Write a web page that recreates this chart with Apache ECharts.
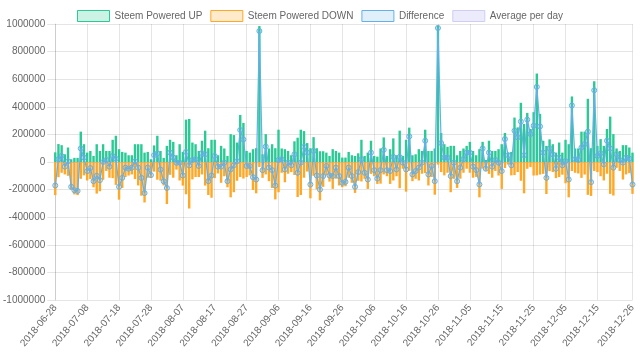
<!DOCTYPE html>
<html>
<head>
<meta charset="utf-8">
<script src="https://cdn.jsdelivr.net/npm/echarts@6/dist/echarts.min.js"></script>
<style>
html,body{margin:0;padding:0;background:#fff;}
#chart{width:640px;height:361px;}
</style>
</head>
<body>
<div id="chart"></div>
<script>
// Categories: consecutive days starting 2018-06-28 (182 days, last 2018-12-26)
const START_DATE = '2018-06-28';
const DAY_COUNT = 182;
const dates = [];
(function(){
  const d0 = new Date(START_DATE + 'T00:00:00Z');
  for (let i = 0; i < DAY_COUNT; i++) {
    const d = new Date(d0.getTime() + i * 86400000);
    dates.push(d.toISOString().slice(0, 10));
  }
})();

const yTicks = [-1000000, -800000, -600000, -400000, -200000, 0, 200000, 400000, 600000, 800000, 1000000];

const poweredUp = [
70000,130000,122000,56000,105000,20000,30000,30000,220000,129000,
68000,80000,44000,129000,80000,129000,80000,80000,161000,190000,
93000,73000,68000,49000,49000,129000,129000,129000,68000,73000,
20000,120000,190000,80000,30000,117000,161000,146000,49000,129000,
73000,307000,312000,141000,129000,80000,154000,227000,100000,161000,
161000,49000,117000,98000,44000,202000,195000,141000,341000,283000,
80000,68000,93000,100000,985000,56000,202000,98000,129000,100000,
234000,98000,93000,80000,49000,150000,176000,234000,224000,137000,
100000,180000,100000,78000,78000,68000,44000,93000,80000,68000,
32000,32000,73000,49000,44000,63000,161000,44000,68000,154000,
44000,39000,98000,178000,44000,93000,171000,49000,227000,44000,
161000,249000,49000,56000,93000,80000,234000,80000,80000,98000,
990000,210000,129000,110000,117000,117000,49000,80000,98000,117000,
146000,80000,49000,93000,146000,15000,154000,80000,80000,93000,
129000,210000,68000,73000,322000,251000,429000,276000,356000,239000,
361000,641000,349000,154000,117000,164000,129000,68000,141000,68000,
161000,129000,475000,98000,98000,220000,220000,458000,100000,585000,
117000,166000,117000,239000,329000,202000,98000,80000,122000,122000,
105000,68000
];

const poweredDown = [
-240000,-110000,-78000,-90000,-100000,-200000,-235000,-240000,-122000,-97000,
-134000,-124000,-183000,-229000,-212000,-129000,-65000,-114000,-117000,-166000,
-273000,-188000,-109000,-98000,-90000,-124000,-170000,-244000,-293000,-114000,
-115000,-70000,-128000,-135000,-170000,-305000,-93000,-114000,-55000,-134000,
-171000,-234000,-337000,-126000,-109000,-109000,-90000,-171000,-239000,-259000,
-117000,-83000,-151000,-103000,-183000,-256000,-219000,-136000,-109000,-120000,
-109000,-97000,-203000,-227000,-36000,-115000,-90000,-139000,-188000,-271000,
-219000,-78000,-147000,-85000,-73000,-94000,-254000,-239000,-114000,-69000,
-263000,-100000,-198000,-278000,-180000,-97000,-142000,-195000,-121000,-170000,
-183000,-176000,-114000,-151000,-224000,-136000,-141000,-122000,-195000,-86000,
-103000,-159000,-157000,-90000,-103000,-159000,-134000,-103000,-190000,-49000,
-215000,-64000,-139000,-122000,-134000,-85000,-80000,-170000,-109000,-237000,
-19000,-73000,-97000,-78000,-219000,-122000,-188000,-121000,-78000,-49000,
-78000,-114000,-108000,-256000,-48000,-64000,-86000,-114000,-65000,-98000,
-195000,-44000,-19000,-97000,-95000,-73000,-136000,-227000,-49000,-37000,
-98000,-97000,-91000,-86000,-232000,-66000,-73000,-117000,-109000,-92000,
-154000,-256000,-65000,-78000,-83000,-115000,-91000,-238000,-246000,-65000,
-73000,-103000,-134000,-85000,-231000,-243000,-42000,-65000,-127000,-90000,
-81000,-231000
];

const difference = [
-170000,20000,44000,-34000,5000,-180000,-205000,-210000,98000,32000,
-66000,-44000,-139000,-100000,-132000,0,15000,-34000,44000,24000,
-180000,-115000,-41000,-49000,-41000,5000,-41000,-115000,-225000,-41000,
-95000,50000,62000,-55000,-140000,-188000,68000,32000,-6000,-5000,
-98000,73000,-25000,15000,20000,-29000,64000,56000,-139000,-98000,
44000,-34000,-34000,-5000,-139000,-54000,-24000,5000,232000,163000,
-29000,-29000,-110000,-127000,949000,-59000,112000,-41000,-59000,-171000,
15000,20000,-54000,-5000,-24000,56000,-78000,-5000,110000,68000,
-163000,80000,-98000,-200000,-102000,-29000,-98000,-102000,-41000,-102000,
-151000,-144000,-41000,-102000,-180000,-73000,20000,-78000,-127000,68000,
-59000,-120000,-59000,88000,-59000,-66000,37000,-54000,37000,-5000,
-54000,185000,-90000,-66000,-41000,-5000,154000,-90000,-29000,-139000,
971000,137000,32000,32000,-102000,-5000,-139000,-41000,20000,68000,
68000,-34000,-59000,-163000,98000,-49000,68000,-34000,15000,-5000,
-66000,166000,49000,-24000,227000,178000,293000,49000,307000,202000,
263000,544000,258000,68000,-115000,98000,56000,-49000,32000,-24000,
7000,-127000,410000,20000,15000,105000,129000,220000,-146000,520000,
44000,63000,-17000,154000,98000,-41000,56000,15000,-5000,32000,
24000,-163000
];

const averagePerDay = [];

const seriesNames = ['Steem Powered UP', 'Steem Powered DOWN', 'Difference', 'Average per day'];

const GREEN = 'rgb(42,202,148)';
const GREEN_L = 'rgba(46,204,150,0.25)';
const ORANGE = 'rgb(255,168,40)';
const ORANGE_L = 'rgba(255,172,51,0.25)';
const BLUE = 'rgb(100,176,232)';
const BLUE_L = 'rgba(100,176,232,0.2)';
const PURPLE = 'rgb(205,205,245)';
const PURPLE_L = 'rgba(205,205,245,0.4)';
const FONT = '"Liberation Sans", Arial, Helvetica, sans-serif';
const GRIDC = 'rgba(0,0,0,0.1)';

const lastIdx = dates.length - 1;
const showIdx = (idx) => (idx % 10 === 0 && idx <= lastIdx - 10) || idx === lastIdx;

const chart = echarts.init(document.getElementById('chart'), null, {renderer: 'canvas'});
chart.setOption({
  animation: false,
  backgroundColor: '#fff',
  textStyle: {fontFamily: FONT},
  legend: {
    top: 5,
    left: 'center',
    itemWidth: 32,
    itemHeight: 11,
    itemGap: 8,
    textStyle: {color: '#666', fontSize: 10, fontFamily: FONT},
    data: [
      {name: seriesNames[0], icon: 'rect', itemStyle: {color: GREEN_L, borderColor: GREEN, borderWidth: 1}},
      {name: seriesNames[1], icon: 'rect', itemStyle: {color: ORANGE_L, borderColor: ORANGE, borderWidth: 1}},
      {name: seriesNames[2], icon: 'rect', itemStyle: {color: BLUE_L, borderColor: BLUE, borderWidth: 1}},
      {name: seriesNames[3], icon: 'rect', itemStyle: {color: PURPLE_L, borderColor: PURPLE, borderWidth: 1}}
    ]
  },
  grid: {left: 53.5, right: 7.5, top: 24, bottom: 61, containLabel: false},
  xAxis: {
    type: 'category',
    data: dates,
    boundaryGap: false,
    axisLine: {show: true, lineStyle: {color: GRIDC}},
    axisTick: {show: true, interval: showIdx, length: 6, lineStyle: {color: GRIDC}},
    axisLabel: {interval: showIdx, rotate: 50, color: '#666', fontSize: 10, fontFamily: FONT, margin: 6},
    splitLine: {show: true, interval: showIdx, lineStyle: {color: GRIDC}}
  },
  yAxis: {
    type: 'value',
    min: yTicks[0],
    max: yTicks[yTicks.length - 1],
    interval: 200000,
    axisLine: {show: true, lineStyle: {color: GRIDC}},
    axisTick: {show: true, length: 8, lineStyle: {color: GRIDC}},
    axisLabel: {color: '#666', fontSize: 10, fontFamily: FONT, margin: 10, formatter: (v) => String(v)},
    splitLine: {show: true, lineStyle: {color: GRIDC}}
  },
  series: [
    {
      name: seriesNames[0], type: 'bar', stack: 'sp', data: poweredUp,
      barWidth: 2.4, itemStyle: {color: GREEN}, z: 2
    },
    {
      name: seriesNames[1], type: 'bar', stack: 'sp', data: poweredDown,
      barWidth: 2.4, itemStyle: {color: ORANGE}, z: 2
    },
    {
      name: seriesNames[2], type: 'line', data: difference,
      symbol: 'circle', symbolSize: 5, showAllSymbol: true,
      lineStyle: {color: BLUE, width: 1.2},
      itemStyle: {color: BLUE_L, borderColor: BLUE, borderWidth: 1},
      areaStyle: {color: 'rgba(100,176,232,0.12)', origin: 'auto'},
      z: 3
    },
    {
      name: seriesNames[3], type: 'line', data: averagePerDay,
      symbol: 'none', lineStyle: {color: PURPLE, width: 1.5}, itemStyle: {color: PURPLE}
    }
  ]
});
</script>
</body>
</html>
